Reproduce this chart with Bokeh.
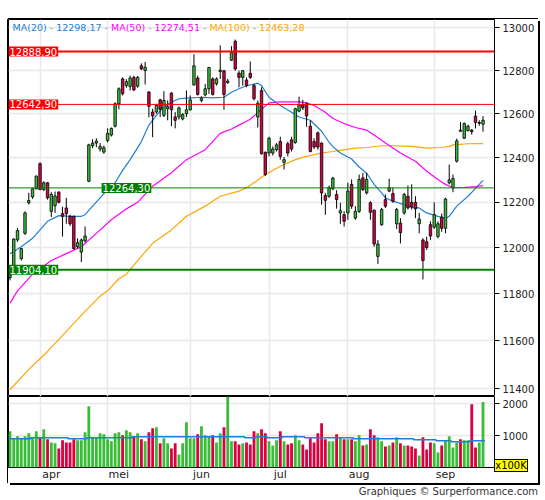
from bokeh.plotting import figure
from bokeh.models import (Range1d, FixedTicker, Label, Span, ColumnDataSource,
                          PrintfTickFormatter, Column, Div)
from bokeh.embed import file_html
from bokeh.resources import INLINE

# ---------------- data ----------------
opens = [11870, 11914, 12034, 11952, 12063, 12198, 12224, 12260, 12373, 12257,
         12287, 12160, 12185, 12245, 12150, 12175, 12138, 12138, 12004, 11981,
         12030, 12294, 12454, 12466, 12439, 12425, 12478, 12503, 12543, 12646,
         12761, 12730, 12726, 12768, 12727, 12822, 12800, 12700, 12608, 12608,
         12664, 12593, 12623, 12695, 12585, 12585, 12576, 12600, 12618, 12733,
         12765, 12661, 12687, 12715, 12761, 12738, 12795, 12799, 12744, 12848,
         12937, 12788, 12768, 12756, 12787, 12730, 12585, 12707, 12424, 12421,
         12421, 12436, 12473, 12379, 12463, 12481, 12469, 12612, 12641, 12646,
         12543, 12473, 12513, 12466, 12230, 12227, 12260, 12235, 12153, 12145,
         12153, 12280, 12130, 12160, 12309, 12242, 12198, 12165, 11962, 12101,
         12212, 12250, 12239, 12105, 12108, 12153, 12227, 12200, 12200, 12105,
         12034, 12026, 12101, 12090, 12049, 12135, 12085, 12287, 12265, 12384,
         12525, 12488, 12523, 12525, 12589, 12556, 12552]
highs = [11896, 12041, 12086, 11999, 12160, 12242, 12265, 12320, 12379, 12294,
         12290, 12245, 12248, 12250, 12180, 12220, 12145, 12141, 12041, 12040,
         12093, 12463, 12484, 12488, 12466, 12455, 12533, 12537, 12653, 12722,
         12768, 12760, 12776, 12776, 12775, 12833, 12840, 12704, 12623, 12646,
         12669, 12704, 12661, 12699, 12607, 12633, 12603, 12707, 12684, 12876,
         12776, 12680, 12738, 12817, 12768, 12768, 12918, 12802, 12761, 12914,
         12945, 12799, 12802, 12768, 12842, 12738, 12661, 12722, 12428, 12495,
         12451, 12466, 12495, 12403, 12473, 12495, 12627, 12679, 12664, 12653,
         12570, 12488, 12518, 12469, 12242, 12275, 12314, 12254, 12198, 12160,
         12287, 12302, 12183, 12324, 12332, 12332, 12205, 12168, 12034, 12175,
         12235, 12305, 12265, 12175, 12130, 12242, 12275, 12280, 12227, 12153,
         12041, 12048, 12116, 12200, 12116, 12150, 12220, 12369, 12324, 12486,
         12562, 12560, 12550, 12530, 12614, 12570, 12589]
lows = [11858, 11907, 12026, 11944, 12056, 12190, 12215, 12258, 12254, 12250,
        12212, 12135, 12153, 12195, 12049, 12105, 12095, 11992, 11996, 11937,
        12022, 12290, 12443, 12448, 12428, 12418, 12469, 12496, 12537, 12620,
        12684, 12720, 12707, 12704, 12720, 12802, 12735, 12584, 12493, 12600,
        12585, 12585, 12570, 12543, 12533, 12573, 12570, 12585, 12615, 12730,
        12684, 12653, 12680, 12692, 12684, 12730, 12761, 12618, 12738, 12845,
        12799, 12722, 12730, 12722, 12761, 12661, 12537, 12414, 12317, 12406,
        12410, 12428, 12391, 12347, 12406, 12428, 12463, 12607, 12617, 12540,
        12424, 12439, 12436, 12190, 12145, 12220, 12254, 12172, 12105, 12093,
        12123, 12171, 12123, 12153, 12250, 12235, 12123, 12004, 11929, 12096,
        12175, 12245, 12198, 12082, 12019, 12145, 12168, 12168, 12130, 12063,
        11862, 11990, 12034, 12083, 12041, 12070, 12063, 12280, 12245, 12378,
        12518, 12485, 12518, 12505, 12533, 12545, 12518]
closes = [11882, 12038, 12075, 11996, 12153, 12208, 12260, 12317, 12257, 12287,
          12220, 12235, 12228, 12200, 12138, 12150, 12105, 11996, 12022, 12034,
          12051, 12458, 12466, 12475, 12451, 12445, 12510, 12533, 12646, 12715,
          12692, 12748, 12765, 12710, 12768, 12807, 12815, 12634, 12590, 12638,
          12620, 12661, 12633, 12618, 12570, 12627, 12596, 12618, 12664, 12822,
          12689, 12672, 12715, 12814, 12689, 12761, 12802, 12689, 12751, 12883,
          12807, 12768, 12799, 12730, 12768, 12669, 12648, 12418, 12324, 12488,
          12439, 12458, 12406, 12391, 12421, 12439, 12623, 12641, 12627, 12590,
          12428, 12448, 12448, 12242, 12209, 12265, 12308, 12212, 12163, 12116,
          12250, 12183, 12160, 12302, 12257, 12302, 12156, 12016, 12016, 12168,
          12183, 12265, 12205, 12168, 12066, 12235, 12175, 12180, 12171, 12126,
          11944, 12001, 12051, 12145, 12105, 12085, 12215, 12300, 12306, 12476,
          12520, 12555, 12543, 12518, 12560, 12560, 12570]
volumes = [1131, 921, 974, 900, 974, 1068, 921, 1131, 921, 1194,
           880, 785, 754, 597, 848, 785, 785, 880, 848, 848,
           1099, 1916, 942, 942, 1068, 1037, 880, 817, 1068, 1099,
           1005, 1162, 1099, 974, 1068, 880, 817, 1099, 1225, 1256,
           754, 911, 754, 597, 754, 408, 754, 1413, 911, 911,
           1037, 1288, 1005, 974, 1005, 785, 1068, 1256, 2230, 817,
           817, 722, 754, 785, 722, 1131, 1068, 1194, 1068, 817,
           691, 848, 1131, 817, 722, 754, 1005, 848, 722, 565,
           911, 785, 1068, 1382, 880, 817, 817, 1037, 942, 880,
           880, 880, 817, 1005, 691, 722, 1194, 1005, 942, 817,
           660, 691, 785, 942, 754, 691, 691, 660, 597, 377,
           942, 565, 785, 754, 471, 691, 848, 974, 628, 785,
           880, 848, 848, 1979, 628, 785, 2050]

# moving averages read at sample bars
ma20_bar = [0, 3, 6, 10, 13, 16, 19, 20, 22, 24, 26, 28, 30, 32, 35, 37, 39, 41, 43, 45,
            47, 51, 54, 57, 59, 61, 63, 66, 67, 69, 72, 75, 77, 80, 83, 85, 86, 88, 91, 93,
            95, 97, 99, 100, 102, 105, 107, 109, 111, 114, 116, 117, 119, 122, 124, 126]
ma20_val = [11974, 12004, 12041, 12116, 12141, 12138, 12138, 12145, 12183, 12220, 12257, 12287,
            12343, 12391, 12473, 12548, 12592, 12633, 12653, 12669, 12672, 12676, 12673, 12676,
            12699, 12715, 12729, 12741, 12730, 12676, 12638, 12607, 12585, 12570, 12520, 12470,
            12450, 12421, 12394, 12358, 12330, 12280, 12242, 12220, 12205, 12190, 12178, 12175,
            12153, 12138, 12127, 12138, 12183, 12227, 12262, 12298.17]
ma50_bar = [0, 2, 6, 11, 15, 19, 23, 27, 31, 34, 38, 43, 47, 52, 56, 59, 61, 63, 64, 66,
            67, 69, 72, 75, 77, 79, 81, 84, 86, 89, 92, 95, 97, 100, 104, 108, 111, 114, 116,
            118, 121, 124, 126]
ma50_val = [11760, 11813, 11885, 11944, 11974, 12004, 12063, 12123, 12171, 12200, 12272, 12332,
            12391, 12436, 12510, 12530, 12548, 12566, 12575, 12605, 12620, 12650, 12655, 12655,
            12655, 12650, 12638, 12607, 12578, 12555, 12537, 12525, 12503, 12466, 12421, 12384,
            12339, 12302, 12280, 12265, 12266, 12270, 12274.51]
ma100_bar = [0, 5, 10, 15, 20, 24, 26, 29, 31, 34, 38, 43, 47, 52, 56, 61, 63, 65, 68, 72,
             76, 79, 83, 86, 88, 92, 95, 99, 102, 107, 111, 115, 117, 118, 122, 126]
ma100_val = [11395, 11480, 11555, 11640, 11725, 11790, 11813, 11865, 11885, 11944, 12019, 12078,
             12138, 12183, 12227, 12250, 12265, 12287, 12324, 12361, 12391, 12406, 12421, 12428,
             12433, 12443, 12446, 12454, 12454, 12451, 12443, 12446, 12451, 12458, 12463, 12463.28]

# volume average (stepped): first bar of each step and its value
vavg_start = [0, 6, 16, 21, 33, 63, 66, 69, 73, 79, 92, 108, 114, 118, 123]
vavg_value = [900, 932, 900, 932, 963, 932, 963, 932, 963, 932, 900, 869, 838, 806, 838]

levels = [12888.90, 12642.90, 12264.30, 11904.10]
level_colors = ["#ff0000", "#ff0000", "#008000", "#008000"]
level_widths = [2, 1, 1, 2]
level_label_bar = [None, None, 24.4, None]

month_names = ["apr", "mei", "jun", "jul", "aug", "sep"]
month_start_bar = [8, 26, 48, 69, 90, 113]
price_ticks = [11400, 11600, 11800, 12000, 12200, 12400, 12600, 12800, 13000]
volume_ticks = [1000, 2000]
volume_unit = "x100K"

# ---------------- styling ----------------
GREEN = "#38bd38"
RED = "#dc0040"
C20, C50, C100 = "#1e7fd6", "#ff00ff", "#ffa500"
SEP = "#999999"
FONT = "DejaVu Sans"
GRID = "#e8e8e8"
TXT = "#222222"

n = len(closes)
idx = list(range(n))
up = [c >= o for o, c in zip(opens, closes)]
src = ColumnDataSource(dict(
    x=idx, o=opens, h=highs, l=lows, c=closes,
    top=[max(o, c) for o, c in zip(opens, closes)],
    bot=[min(o, c) for o, c in zip(opens, closes)],
    col=[GREEN if u else RED for u in up],
    vol=volumes,
))

xr = Range1d(-0.4, 129.06)
RIGHT = 44
FRAME_W = 486
VOL_H = 71
AXIS_H = 14

def style_yaxis(ax):
    ax.axis_line_color = None
    ax.major_tick_in = 0
    ax.major_tick_out = 5
    ax.major_tick_line_color = "black"
    ax.minor_tick_line_color = None
    ax.major_label_standoff = 3
    ax.major_label_text_font = FONT
    ax.major_label_text_font_size = "10px"
    ax.major_label_text_color = TXT

# ---------------- price panel ----------------
p = figure(frame_width=FRAME_W, frame_height=377, x_range=xr,
           y_range=Range1d(11367, 13040), y_axis_type="log",
           x_axis_location=None, y_axis_location="right",
           output_backend="svg", toolbar_location=None,
           min_border_left=0, min_border_top=0, min_border_bottom=0,
           min_border_right=RIGHT)
p.outline_line_color = "black"
p.outline_line_width = 1

p.yaxis.ticker = FixedTicker(ticks=price_ticks)
p.ygrid.ticker = FixedTicker(ticks=price_ticks)
p.xgrid.ticker = FixedTicker(ticks=month_start_bar)
for g in (p.xgrid, p.ygrid):
    g.grid_line_color = GRID
    g.grid_line_width = 1.5
p.yaxis.formatter = PrintfTickFormatter(format="%d")
style_yaxis(p.yaxis[0])

# moving averages
p.line(ma100_bar, ma100_val, color=C100, line_width=1.2)
p.line(ma50_bar, ma50_val, color=C50, line_width=1.2)
p.line(ma20_bar, ma20_val, color=C20, line_width=1.2)

# horizontal levels
for lv, lc, lw in zip(levels, level_colors, level_widths):
    p.add_layout(Span(location=lv, dimension="width", line_color=lc, line_width=lw))

# candles
p.segment(x0="x", y0="l", x1="x", y1="h", source=src, color="black", line_width=1)
p.vbar(x="x", width=0.66, top="top", bottom="bot", source=src,
       fill_color="col", line_color="black", line_width=0.8)

def fmt(v):
    return f"{v:.2f}".replace(".", ",")

for lv, lc, lb in zip(levels, level_colors, level_label_bar):
    p.add_layout(Label(x=(lb if lb is not None else xr.start), y=lv, text=fmt(lv),
                       text_font=FONT, text_font_size="10px", text_color="white",
                       text_baseline="middle", text_align="left",
                       background_fill_color=lc, padding=1))

# legend line at the top
CW = {"M": 0.863, "A": 0.684, "(": 0.39, ")": 0.39, ",": 0.318, " ": 0.318, "-": 0.361}
def twidth(s, size):
    return sum(CW.get(ch, 0.636) for ch in s) * size

fs = 9.5
pieces = [("MA(20)", C20), (fmt(ma20_val[-1]), C20),
          ("MA(50)", C50), (fmt(ma50_val[-1]), C50),
          ("MA(100)", C100), (fmt(ma100_val[-1]), C100)]
off = 4
for k, (s, col) in enumerate(pieces):
    p.add_layout(Label(x=xr.start, y=13000, text=s, x_offset=off, text_font=FONT,
                       text_font_size=f"{fs}px", text_color=col, text_baseline="middle"))
    off += twidth(s, fs)
    if k < len(pieces) - 1:
        off += twidth(" ", fs)
        p.add_layout(Label(x=xr.start, y=13000, text="-", x_offset=off, text_font=FONT,
                           text_font_size=f"{fs}px", text_color=SEP, text_baseline="middle"))
        off += twidth("- ", fs)

# ---------------- volume panel ----------------
v = figure(frame_width=FRAME_W, frame_height=VOL_H, x_range=xr, y_range=Range1d(0, 2219),
           y_axis_location="right", output_backend="svg", toolbar_location=None,
           min_border_left=0, min_border_top=0, min_border_bottom=AXIS_H,
           min_border_right=RIGHT)
v.outline_line_color = "black"
v.outline_line_width = 1
v.vbar(x="x", width=0.75, top="vol", bottom=0, source=src, fill_color="col", line_color=None)

sx, sy = [], []
ends = vavg_start[1:] + [n]
for s0, s1, val in zip(vavg_start, ends, vavg_value):
    sx += [s0 - 0.5, s1 - 0.5]
    sy += [val, val]
v.line(sx, sy, color=C20, line_width=1.6)

v.yaxis.ticker = FixedTicker(ticks=volume_ticks)
v.ygrid.ticker = FixedTicker(ticks=volume_ticks)
v.xgrid.ticker = FixedTicker(ticks=month_start_bar)
for g in (v.xgrid, v.ygrid):
    g.grid_line_color = GRID
    g.grid_line_width = 1.5
style_yaxis(v.yaxis[0])

label_ticks = [m + 3 for m in month_start_bar]
v.xaxis.ticker = FixedTicker(ticks=label_ticks)
v.xaxis.major_label_overrides = {t: name for t, name in zip(label_ticks, month_names)}
v.xaxis.axis_line_color = None
v.xaxis.major_tick_in = 0
v.xaxis.major_tick_out = 0
v.xaxis.minor_tick_line_color = None
v.xaxis.major_label_standoff = 0
v.xaxis.major_label_text_font = FONT
v.xaxis.major_label_text_font_size = "11px"
v.xaxis.major_label_text_color = TXT

# unit box sitting in the right margin at the bottom of the volume panel
BOX_W, BOX_H = 34, 13
up_shift = 24          # from the bottom of the volume figure to the top of the box
unit_box = Div(text=volume_unit, width=BOX_W, height=BOX_H,
               margin=(-up_shift, 0, up_shift - BOX_H, FRAME_W),
               styles={"background-color": "#ffff00", "border": "1px solid black",
                       "box-sizing": "border-box", "font-family": FONT, "font-size": "10px",
                       "line-height": "11px", "text-align": "center", "color": "black",
                       "overflow": "hidden", "white-space": "nowrap"})

framed = Column(children=[p, v, unit_box], spacing=0,
                styles={"box-shadow": "2px 2px 0 0 #000, -1px 0 0 0 #000, 0 -1px 0 0 #000"})
footer = Div(text="Graphiques &copy; Surperformance.com", width=530, height=18,
             margin=(0, 0, 0, 0),
             styles={"text-align": "right", "font-family": FONT, "font-size": "10px",
                     "color": "#333333", "line-height": "18px", "white-space": "nowrap"})
page = Column(children=[framed, footer], spacing=0, margin=(19, 0, 0, 8))

open("out.html", "w").write(file_html(page, INLINE))
